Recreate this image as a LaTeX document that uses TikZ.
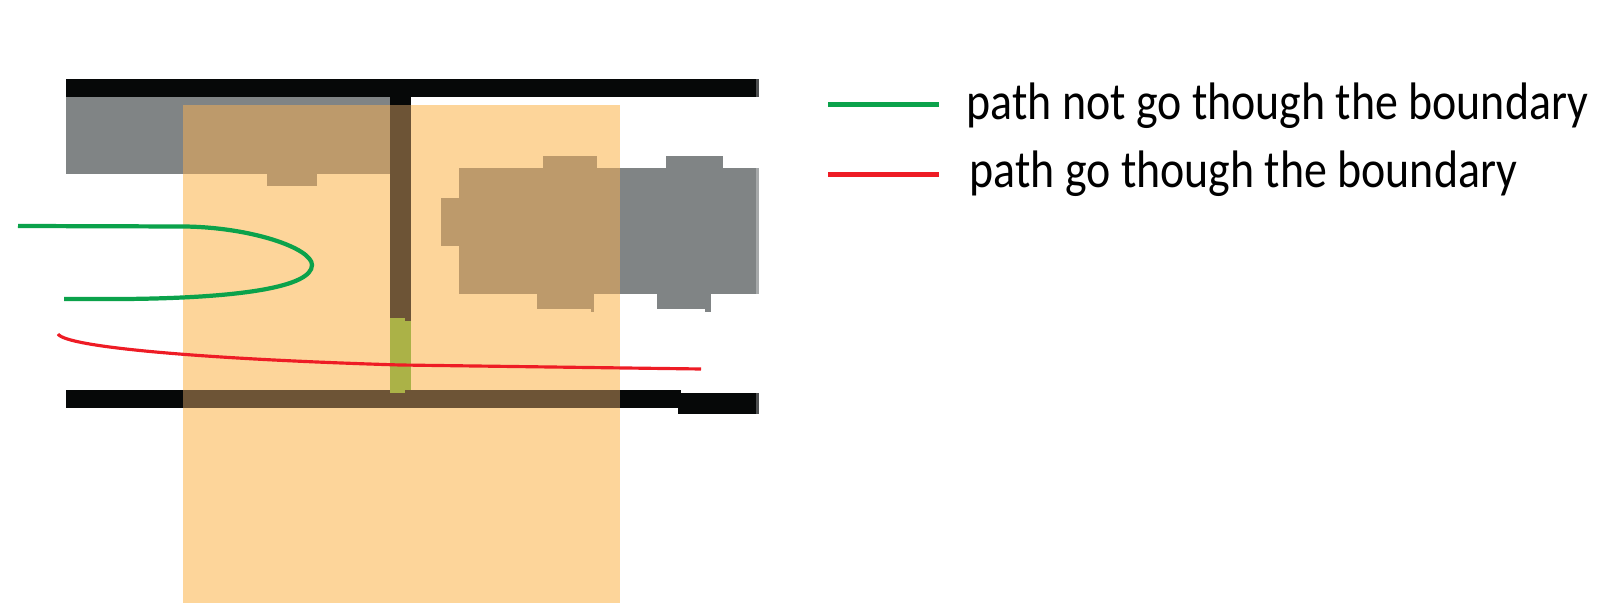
\documentclass[tikz,border=0pt]{standalone}
\usepackage{fontspec}
\setmainfont{Carlito}
\newfontfamily\legendfont[FakeStretch=0.87]{Carlito}
\definecolor{barblack}{HTML}{060808}
\definecolor{platedgray}{HTML}{808485}
\definecolor{zoneorange}{HTML}{FDD59A}
\definecolor{overbrown}{HTML}{BD9A6B}
\definecolor{overdark}{HTML}{6D5436}
\definecolor{gateolive}{HTML}{ABB247}
\definecolor{pathgreen}{HTML}{0BA24B}
\definecolor{pathred}{HTML}{EE1C25}
\tikzset{
  greenpath/.style={draw=pathgreen, line width=1.2pt},
  redpath/.style={draw=pathred, line width=0.9pt},
  legendtext/.style={anchor=base west, inner sep=0pt, font=\legendfont\fontsize{15}{18}\selectfont}
}
\begin{document}
\begin{tikzpicture}[x=0.01cm, y=-0.01cm]
  \useasboundingbox (0, 0) rectangle (1601, 604);

  % Shaded zone
  \fill[zoneorange] (183, 105) rectangle (620, 603);

  % Gray blocks
  \fill[platedgray] (66, 97) rectangle (390, 174);
  \fill[platedgray] (620, 168) rectangle (756, 294);
  \fill[platedgray] (666, 156) rectangle (723, 168);
  \fill[platedgray] (657, 294) rectangle (711, 309);
  \fill[platedgray] (705, 309) rectangle (711, 312);
  \fill[platedgray!70!white] (756, 168) rectangle (759, 294);

  % Same blocks inside the zone
  \fill[overbrown] (183, 105) rectangle (390, 174);
  \fill[overbrown] (267, 174) rectangle (317, 186);
  \fill[overbrown] (459, 168) rectangle (620, 294);
  \fill[overbrown] (441, 198) rectangle (459, 246);
  \fill[overbrown] (543, 156) rectangle (597, 168);
  \fill[overbrown] (537, 294) rectangle (594, 309);
  \fill[overbrown] (591, 309) rectangle (594, 312);

  % Black bars
  \fill[barblack] (66, 79) rectangle (756, 97);
  \fill[platedgray!60!black] (756, 79) rectangle (759, 97);
  \fill[barblack] (390, 97) rectangle (411, 105);
  \fill[barblack] (66, 390) rectangle (681, 408);
  \fill[barblack] (678, 393) rectangle (756, 414);
  \fill[platedgray!60!black] (756, 393) rectangle (759, 414);

  % Bars inside the zone
  \fill[overdark] (390, 105) rectangle (411, 321);
  \fill[overdark] (183, 390) rectangle (620, 408);

  % Gap in the wall
  \fill[gateolive] (390, 321) rectangle (411, 390);
  \fill[gateolive] (390, 318) rectangle (405, 393);

  % Paths
  \draw[greenpath] (18, 226) -- (183, 226.5) .. controls (250, 227) and (312, 248) .. (312, 265)
    .. controls (312, 287) and (240, 298) .. (125, 299) -- (64, 299);
  \draw[redpath] (58, 334) .. controls (66, 347) and (200, 359) .. (400, 365) -- (701, 369);

  % Legend
  \coordinate (greenstart) at (828, 104.5);
  \coordinate (greenend) at (939, 104.5);
  \coordinate (redstart) at (828, 174.5);
  \coordinate (redend) at (939, 174.5);
  \draw[greenpath] (greenstart) -- (greenend);
  \draw[redpath, line width=1.2pt] (redstart) -- (redend);
  \node[legendtext] (greenlabel) at (966, 120) {path not go though the boundary};
  \node[legendtext] (redlabel) at (969, 188) {path go though the boundary};
\end{tikzpicture}
\end{document}
